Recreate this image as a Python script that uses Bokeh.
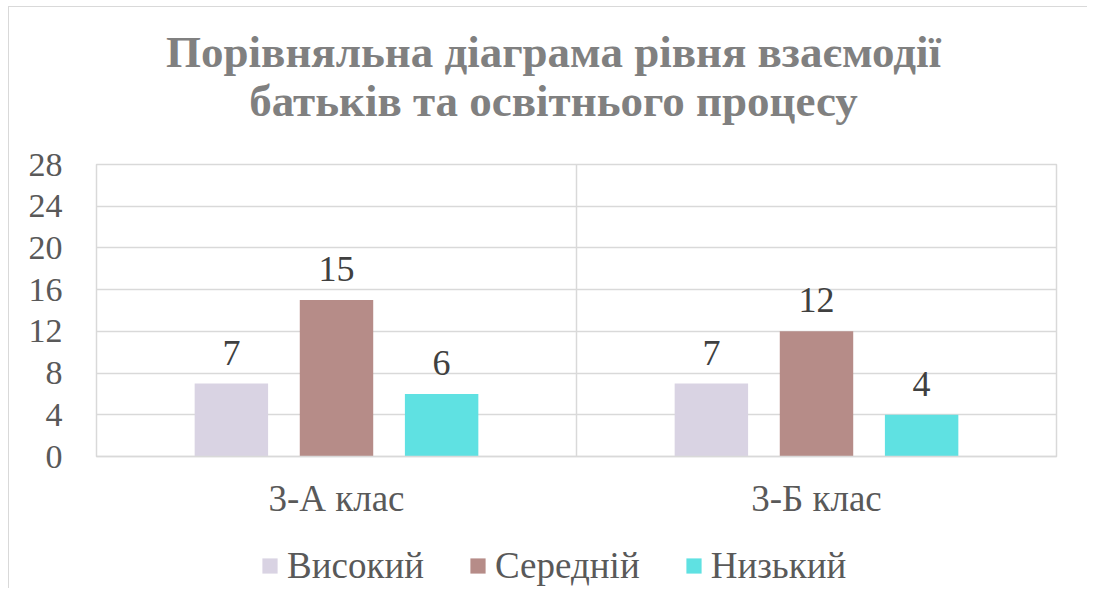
from bokeh.plotting import figure
from bokeh.layouts import column
from bokeh.models import (ColumnDataSource, Range1d, FixedTicker, LabelSet, Legend,
                          LegendItem, Label)
from bokeh.embed import file_html
from bokeh.resources import INLINE

# ---- data ----
categories = ["3-А клас", "3-Б клас"]
series_names = ["Високий", "Середній", "Низький"]
vysokyi = [7, 7]
serednii = [15, 12]
nyzkyi = [6, 4]
y_ticks = [0, 4, 8, 12, 16, 20, 24, 28]
title_lines = ["Порівняльна діаграма рівня взаємодії", "батьків та освітнього процесу"]

series_values = [vysokyi, serednii, nyzkyi]
colors = ["#D9D3E3", "#B68C88", "#5FE1E2"]
offsets = [-0.219, 0.0, 0.219]
bar_w = 0.153

FONT = "Liberation Serif"
W = 1078
BL, BR = 87, 31      # side borders shared by all strips (frames line up)
FW = W - BL - BR     # frame width
TH = 133   # title strip height
MH = 397   # chart height
LH = 51    # legend strip height


def strip(h):
    f = figure(width=W, height=h, output_backend="svg", toolbar_location=None,
               x_range=Range1d(0, FW), y_range=Range1d(0, h),
               min_border_left=BL, min_border_right=BR, min_border_top=0, min_border_bottom=0,
               x_axis_location=None, y_axis_location=None)
    f.grid.visible = False
    f.outline_line_color = None
    return f


# ---- title strip ----
tf = strip(TH)
for txt, yy in zip(title_lines, [89, 40]):
    tf.add_layout(Label(x=457, y=yy, text=txt, text_align="center", text_baseline="alphabetic",
                        text_font=FONT, text_font_size="45px", text_font_style="bold",
                        text_color="#808080"))

# ---- chart ----
p = figure(width=W, height=MH, output_backend="svg", toolbar_location=None,
           x_range=Range1d(0, len(categories)), y_range=Range1d(0, 28),
           min_border_left=BL, min_border_right=BR, min_border_top=24, min_border_bottom=81)

for name, vals, col, off in zip(series_names, series_values, colors, offsets):
    src = ColumnDataSource(dict(x=[i + 0.5 + off for i in range(len(categories))],
                                top=vals, lab=[str(v) for v in vals]))
    p.vbar(x="x", top="top", width=bar_w, source=src, fill_color=col, line_color=None)
    p.add_layout(LabelSet(x="x", y="top", text="lab", source=src, text_align="center",
                          text_baseline="alphabetic", y_offset=19, text_font=FONT,
                          text_font_size="36px", text_color="#404040"))

p.yaxis.ticker = FixedTicker(ticks=y_ticks)
p.yaxis.axis_line_color = None
p.yaxis.major_tick_line_color = None
p.yaxis.minor_tick_line_color = None
p.yaxis.major_label_text_font = FONT
p.yaxis.major_label_text_font_size = "34px"
p.yaxis.major_label_text_color = "#595959"
p.yaxis.major_label_standoff = 28

p.xaxis.ticker = FixedTicker(ticks=[i + 0.5 for i in range(len(categories))])
p.xaxis.major_label_overrides = {i + 0.5: c for i, c in enumerate(categories)}
p.xaxis.axis_line_color = "#D9D9D9"
p.xaxis.axis_line_width = 1.5
p.xaxis.major_tick_line_color = None
p.xaxis.minor_tick_line_color = None
p.xaxis.major_label_text_font = FONT
p.xaxis.major_label_text_font_size = "37px"
p.xaxis.major_label_text_color = "#595959"
p.xaxis.major_label_standoff = 15

p.xgrid.ticker = FixedTicker(ticks=list(range(len(categories) + 1)))
p.xgrid.grid_line_color = "#D9D9D9"
p.xgrid.grid_line_width = 1.5
p.ygrid.grid_line_color = "#D9D9D9"
p.ygrid.grid_line_width = 1.5
p.outline_line_color = "#D9D9D9"
p.outline_line_width = 1.5

# ---- legend strip ----
lg = strip(LH)
items = []
for name, col in zip(series_names, colors):
    r = lg.vbar(x=[-500], top=[0], width=1, fill_color=col, line_color=None)
    items.append(LegendItem(label=name, renderers=[r]))
legend = Legend(items=items, orientation="horizontal", location=(164, 1),
                label_text_font=FONT, label_text_font_size="37px",
                label_text_color="#595959", glyph_width=19, glyph_height=19,
                label_standoff=8, spacing=44, border_line_color=None,
                background_fill_alpha=0, margin=0, padding=0)
lg.add_layout(legend, "center")

layout = column(tf, p, lg, spacing=0)
layout.styles = {"margin-left": "8px", "margin-top": "6px",
                 "border-left": "1px solid #D9D9D9", "border-top": "1px solid #D9D9D9"}

open("out.html", "w").write(file_html(layout, INLINE))
